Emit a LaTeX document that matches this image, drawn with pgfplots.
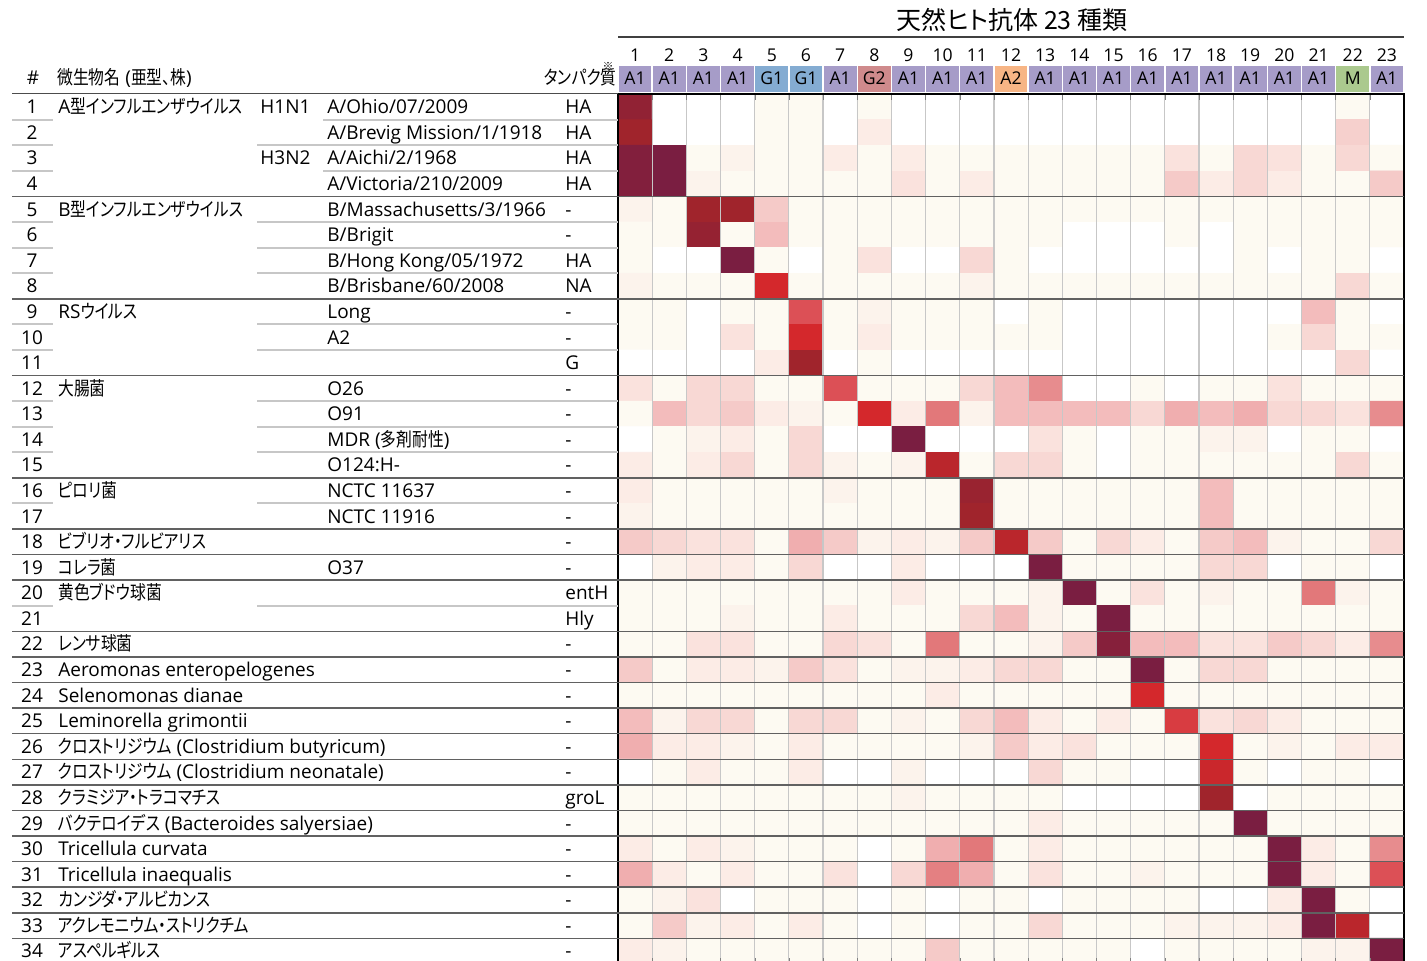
\documentclass[border=0pt]{standalone}
\usepackage{fontspec}
\setmainfont{Open Sans}
\newfontfamily\jp[RawFeature=+palt, Scale=1.0, FakeStretch=0.83]{Noto Sans CJK JP}
\newfontfamily\jpt[RawFeature=+palt]{Noto Sans CJK JP}
\usepackage{pgfplots}
\pgfplotsset{compat=1.18}
\definecolor{cA}{RGB}{166,156,200}
\definecolor{cG}{RGB}{132,172,210}
\definecolor{cGb}{RGB}{207,138,140}
\definecolor{cAb}{RGB}{247,181,133}
\definecolor{cM}{RGB}{171,201,142}
\newcommand\J[1]{{\jp #1}}
\newcommand\RN[1]{\node[anchor=base] at (32,{88.21+25.58*#1}) {#1};}
\newcommand\RT[3]{\node[anchor=base west] at (#2,{88.21+25.58*#1}) {#3};}
\begin{document}
\begin{tikzpicture}
\begin{axis}[
  at={(309pt,-47.1pt)}, anchor=north west,
  scale only axis, width=393pt, height=434.85pt,
  xmin=0.5, xmax=23.5, ymin=0.5, ymax=34.5, y dir=reverse,
  axis on top,
  xtick={1,...,23},
  xticklabels={1,2,3,4,5,6,7,8,9,10,11,12,13,14,15,16,17,18,19,20,21,22,23},
  xticklabel pos=upper,
  xticklabel style={font=\fontsize{8.8}{10}\selectfont, anchor=base, yshift=16.6pt, inner sep=0pt},
  major tick length=0pt,
  ytick=\empty,
  minor xtick={0.5,1.5,...,23.5}, minor ytick={0.5,1.5,...,34.5},
  xminorgrids, yminorgrids,
  minor grid style={draw=black!22, line width=0.6pt},
  axis line style={line width=1pt, black},
  colormap={heat}{rgb255(0)=(255,255,255); rgb255(1)=(253,250,242); rgb255(2)=(252,236,230); rgb255(3)=(248,216,212); rgb255(4)=(243,188,188); rgb255(5)=(236,160,162); rgb255(6)=(226,120,122); rgb255(7)=(220,80,86); rgb255(8)=(212,40,44); rgb255(9)=(160,36,44); rgb255(10)=(122,30,65)},
  point meta min=0, point meta max=10,
]
\addplot[matrix plot*, mesh/cols=23, point meta=explicit]
  table[header=false, row sep=\\, x expr={mod(\coordindex,23)+1}, y expr={floor((\coordindex+0.5)/23)+1}, meta index=0] {
9.4\\ 0\\ 0\\ 0\\ 1\\ 1\\ 0\\ 1\\ 0\\ 0\\ 0\\ 0\\ 0\\ 0\\ 0\\ 0\\ 0\\ 0\\ 0\\ 0\\ 0\\ 1\\ 0\\
9\\ 0\\ 0\\ 0\\ 1\\ 1\\ 0\\ 2\\ 0\\ 0\\ 0\\ 0\\ 0\\ 0\\ 0\\ 0\\ 0\\ 0\\ 0\\ 0\\ 0\\ 3.3\\ 0\\
9.8\\ 10\\ 1\\ 1.5\\ 1\\ 1\\ 2\\ 1\\ 2\\ 1\\ 1\\ 1\\ 1\\ 1\\ 1\\ 1\\ 2.5\\ 1\\ 3\\ 2.5\\ 1\\ 3\\ 1\\
9.8\\ 10\\ 1.5\\ 1\\ 1\\ 1\\ 1\\ 1\\ 2.5\\ 1\\ 2\\ 1\\ 1\\ 1\\ 1\\ 1\\ 3.5\\ 2\\ 3\\ 2\\ 1\\ 1\\ 3.5\\
1.5\\ 1\\ 9\\ 9\\ 3.5\\ 1\\ 1\\ 1\\ 1\\ 1\\ 1\\ 1\\ 1\\ 1\\ 1\\ 1\\ 1\\ 1\\ 1\\ 1\\ 1\\ 1\\ 1\\
1\\ 1\\ 9.3\\ 1\\ 4\\ 1\\ 1\\ 1\\ 1\\ 1\\ 1\\ 1\\ 1\\ 0\\ 0\\ 0\\ 1\\ 0\\ 1\\ 1\\ 1\\ 1\\ 1\\
1\\ 0\\ 0\\ 10\\ 1\\ 0\\ 1\\ 2.5\\ 0\\ 0\\ 3\\ 1\\ 0\\ 0\\ 0\\ 0\\ 0\\ 0\\ 1\\ 0\\ 1\\ 1\\ 0\\
1.5\\ 1\\ 1\\ 1\\ 8\\ 1\\ 1\\ 1\\ 1\\ 1\\ 1.5\\ 1\\ 1\\ 1\\ 1\\ 1\\ 1\\ 1\\ 1\\ 1\\ 1\\ 3\\ 1\\
1\\ 1\\ 0\\ 1\\ 1\\ 7\\ 1\\ 1.5\\ 1\\ 1\\ 1\\ 0\\ 1\\ 0\\ 0\\ 0\\ 0\\ 0\\ 0\\ 0\\ 4\\ 1\\ 0\\
1\\ 1\\ 0\\ 2.5\\ 1\\ 8\\ 1\\ 2\\ 1\\ 1\\ 1\\ 1\\ 1\\ 0\\ 0\\ 0\\ 0\\ 0\\ 0\\ 1\\ 3\\ 1\\ 1\\
0\\ 0\\ 0\\ 0\\ 2\\ 9\\ 0\\ 1\\ 0\\ 0\\ 0\\ 0\\ 0\\ 0\\ 0\\ 0\\ 0\\ 0\\ 0\\ 0\\ 0\\ 3\\ 0\\
2.5\\ 1\\ 3\\ 3\\ 1\\ 1\\ 7\\ 1\\ 1\\ 1\\ 3\\ 4\\ 5.5\\ 0\\ 0\\ 1\\ 0\\ 1\\ 1\\ 2.5\\ 1\\ 1\\ 1\\
1\\ 4\\ 3\\ 3.5\\ 2\\ 1.5\\ 1\\ 8\\ 2\\ 6\\ 1.5\\ 4\\ 4\\ 4\\ 4\\ 3\\ 4.5\\ 4\\ 4.5\\ 3\\ 3\\ 2.5\\ 5.5\\
0\\ 1\\ 1.5\\ 2\\ 1\\ 3\\ 0\\ 0\\ 10\\ 0\\ 0\\ 0\\ 2.5\\ 1\\ 0\\ 1\\ 1\\ 1.5\\ 1.5\\ 0\\ 1\\ 1\\ 0\\
2\\ 1\\ 2\\ 3\\ 1\\ 3\\ 1.5\\ 1\\ 1.5\\ 8.5\\ 1\\ 3\\ 3\\ 1\\ 0\\ 1\\ 1\\ 1\\ 1\\ 1\\ 1\\ 3\\ 1\\
2\\ 1\\ 1\\ 1\\ 1\\ 1\\ 1.5\\ 1\\ 1\\ 1\\ 9.2\\ 1\\ 1\\ 1\\ 1\\ 1\\ 1\\ 4\\ 1\\ 1\\ 1\\ 1\\ 1\\
1.5\\ 1\\ 1\\ 1\\ 1\\ 1\\ 1\\ 1\\ 1\\ 1\\ 9\\ 1\\ 1\\ 1\\ 1\\ 1\\ 1\\ 4\\ 1\\ 1\\ 1\\ 1\\ 1\\
3.5\\ 3\\ 2.5\\ 2.5\\ 1\\ 4.5\\ 3.5\\ 1.5\\ 2\\ 1.5\\ 3.5\\ 8.5\\ 3.5\\ 1\\ 3\\ 2\\ 1\\ 3.5\\ 4\\ 1.5\\ 1\\ 1\\ 3\\
0\\ 1.5\\ 2\\ 2\\ 1\\ 3\\ 0\\ 0\\ 2\\ 0\\ 0\\ 0\\ 10\\ 1\\ 1\\ 1\\ 1\\ 3\\ 3\\ 0\\ 1\\ 1\\ 0\\
1\\ 1\\ 1\\ 1\\ 1\\ 1\\ 1\\ 1\\ 2\\ 1\\ 1\\ 1\\ 1.5\\ 10\\ 1\\ 2.5\\ 1\\ 1.5\\ 1\\ 1\\ 6\\ 1.5\\ 1\\
1\\ 1\\ 1\\ 1.5\\ 1\\ 1\\ 2\\ 1\\ 1\\ 1\\ 3\\ 4\\ 1.5\\ 1\\ 10\\ 1\\ 1\\ 1\\ 1\\ 1\\ 1\\ 1\\ 1\\
1\\ 1\\ 2.5\\ 2.5\\ 1\\ 1\\ 3\\ 2.5\\ 1\\ 6\\ 1\\ 1\\ 1.5\\ 3.5\\ 9.7\\ 4\\ 4\\ 2.5\\ 2.5\\ 3.5\\ 3\\ 2\\ 5.5\\
3.5\\ 1\\ 2\\ 2\\ 1.5\\ 3.5\\ 2.5\\ 1\\ 1.5\\ 1.5\\ 2\\ 3\\ 3\\ 1\\ 1\\ 10\\ 1\\ 3\\ 3\\ 1\\ 1\\ 1\\ 1\\
1\\ 1\\ 1\\ 1\\ 1\\ 1\\ 1\\ 1\\ 1\\ 2\\ 1\\ 1\\ 1\\ 1\\ 1\\ 8\\ 1\\ 1\\ 1\\ 1\\ 1\\ 1\\ 1\\
4\\ 1.5\\ 3\\ 3\\ 1\\ 3\\ 3\\ 1\\ 1.5\\ 1\\ 3\\ 4\\ 2\\ 1\\ 2\\ 1\\ 7.5\\ 2.5\\ 3\\ 2\\ 1\\ 1\\ 1\\
4.5\\ 2\\ 2\\ 1.5\\ 1\\ 2\\ 1\\ 1\\ 1\\ 1\\ 1.5\\ 3.5\\ 2\\ 2.5\\ 1\\ 1\\ 1\\ 8\\ 1\\ 1.5\\ 1\\ 2\\ 2\\
0\\ 1\\ 2\\ 1\\ 1\\ 2\\ 0\\ 0\\ 1.5\\ 0\\ 0\\ 0\\ 3\\ 1\\ 1\\ 0\\ 0\\ 8.2\\ 1\\ 0\\ 1\\ 1\\ 0\\
1\\ 1\\ 1\\ 1\\ 1\\ 1\\ 1\\ 1\\ 1.5\\ 1\\ 1\\ 1\\ 1\\ 0\\ 0\\ 0\\ 0\\ 9\\ 0\\ 1\\ 1\\ 1\\ 1\\
1\\ 1\\ 1\\ 1\\ 1\\ 1\\ 1\\ 1\\ 1\\ 1\\ 1\\ 1\\ 2\\ 1\\ 1\\ 1\\ 1\\ 1\\ 10\\ 1\\ 1\\ 1\\ 1\\
2\\ 1\\ 2\\ 1.5\\ 1\\ 1\\ 1\\ 0\\ 1\\ 4.5\\ 6\\ 1\\ 2\\ 1\\ 1\\ 1\\ 1\\ 1\\ 1\\ 10\\ 2\\ 1\\ 5.5\\
4.5\\ 2\\ 1\\ 2\\ 1\\ 1\\ 2.5\\ 0\\ 3\\ 5.8\\ 4.5\\ 1\\ 2.5\\ 1\\ 1\\ 1.5\\ 1\\ 1\\ 1\\ 10\\ 2\\ 1\\ 7\\
1\\ 1.5\\ 2.5\\ 0\\ 1\\ 1\\ 1\\ 0\\ 1\\ 0\\ 1\\ 1\\ 0\\ 1\\ 1\\ 1\\ 1\\ 0\\ 0\\ 2\\ 10\\ 1\\ 0\\
1\\ 3.5\\ 1.5\\ 2\\ 1\\ 2\\ 1\\ 0\\ 1\\ 0\\ 1\\ 1\\ 3\\ 1\\ 1\\ 1\\ 1.5\\ 1.5\\ 1.5\\ 2\\ 10\\ 8.5\\ 0\\
2\\ 1.5\\ 1\\ 1\\ 1\\ 1\\ 1\\ 1\\ 1\\ 3.5\\ 1\\ 1\\ 1\\ 1\\ 1\\ 0\\ 1\\ 1\\ 1\\ 1\\ 1.5\\ 1.5\\ 10\\
};
\end{axis}
\begin{scope}[x=0.5pt,y=-0.5pt, every node/.append style={font=\fontsize{9.5}{11}\selectfont, inner sep=0pt}]
% title
\node[anchor=base, font=\jpt\fontsize{12.5}{14}\selectfont] at (1012,30) {天然ヒト抗体 23 種類};
\draw[black!75, line width=1pt] (618,37.5) -- (1404,37.5);
% antibody class boxes
\foreach \i/\t/\c in {1/A1/cA,2/A1/cA,3/A1/cA,4/A1/cA,5/G1/cG,6/G1/cG,7/A1/cA,8/G2/cGb,9/A1/cA,10/A1/cA,11/A1/cA,12/A2/cAb,13/A1/cA,14/A1/cA,15/A1/cA,16/A1/cA,17/A1/cA,18/A1/cA,19/A1/cA,20/A1/cA,21/A1/cA,22/M/cM,23/A1/cA}{
  \pgfmathsetmacro\xa{618+(\i-1)*34.174+0.7}
  \pgfmathsetmacro\xb{618+\i*34.174-0.7}
  \fill[\c] (\xa,66) rectangle (\xb,92);
  \node[anchor=base, font=\fontsize{8.8}{10}\selectfont] at ({(\xa+\xb)/2},85) {\t};
}
% header row
\node[anchor=base] at (33,85) {\#};
\node[anchor=base west] at (57,85) {\J{微生物名} (\J{亜型、株})};
\node[anchor=base east] at (617,85) {\J{タンパク質}};
\node[font=\jpt\fontsize{5.5}{6}\selectfont] at (608,66) {※};
\draw[black!70, line width=0.75pt] (12,93.5) -- (618,93.5);
% separators
\foreach \k in {1,2,3,5,6,7,9,10,12,13,14,16,20}{
  \draw[black!22, line width=1pt] (12,{94.2+25.58*\k}) -- (53,{94.2+25.58*\k});
}
\foreach \k in {2,5,6,7,9,10,12,13,14,16,20}{
  \draw[black!22, line width=1pt] (257,{94.2+25.58*\k}) -- (618,{94.2+25.58*\k});
}
\foreach \k in {1,3}{
  \draw[black!22, line width=1pt] (323,{94.2+25.58*\k}) -- (618,{94.2+25.58*\k});
}
\foreach \k in {4,8,11,15,17,18,19,21,22,23,24,25,26,27,28,29,30,31,32,33}{
  \draw[black!62, line width=0.75pt] (12,{94.2+25.58*\k}) -- (1404,{94.2+25.58*\k});
}
% row numbers
\foreach \r in {1,...,34}{\RN{\r}}
% organism names
\RT{1}{58}{A\J{型インフルエンザウイルス}}
\RT{5}{58}{B\J{型インフルエンザウイルス}}
\RT{9}{58}{RS\J{ウイルス}}
\RT{12}{58}{\J{大腸菌}}
\RT{16}{58}{\J{ピロリ菌}}
\RT{18}{58}{\J{ビブリオ・フルビアリス}}
\RT{19}{58}{\J{コレラ菌}}
\RT{20}{58}{\J{黄色ブドウ球菌}}
\RT{22}{58}{\J{レンサ球菌}}
\RT{23}{58}{Aeromonas enteropelogenes}
\RT{24}{58}{Selenomonas dianae}
\RT{25}{58}{Leminorella grimontii}
\RT{26}{58}{\J{クロストリジウム} (Clostridium butyricum)}
\RT{27}{58}{\J{クロストリジウム} (Clostridium neonatale)}
\RT{28}{58}{\J{クラミジア・トラコマチス}}
\RT{29}{58}{\J{バクテロイデス} (Bacteroides salyersiae)}
\RT{30}{58}{Tricellula curvata}
\RT{31}{58}{Tricellula inaequalis}
\RT{32}{58}{\J{カンジダ・アルビカンス}}
\RT{33}{58}{\J{アクレモニウム・ストリクチム}}
\RT{34}{58}{\J{アスペルギルス}}
% subtypes
\RT{1}{260}{H1N1}
\RT{3}{260}{H3N2}
% strains
\RT{1}{327}{A/Ohio/07/2009}
\RT{2}{327}{A/Brevig Mission/1/1918}
\RT{3}{327}{A/Aichi/2/1968}
\RT{4}{327}{A/Victoria/210/2009}
\RT{5}{327}{B/Massachusetts/3/1966}
\RT{6}{327}{B/Brigit}
\RT{7}{327}{B/Hong Kong/05/1972}
\RT{8}{327}{B/Brisbane/60/2008}
\RT{9}{327}{Long}
\RT{10}{327}{A2}
\RT{12}{327}{O26}
\RT{13}{327}{O91}
\RT{14}{327}{MDR (\J{多剤耐性})}
\RT{15}{327}{O124:H-}
\RT{16}{327}{NCTC 11637}
\RT{17}{327}{NCTC 11916}
\RT{19}{327}{O37}
% proteins
\RT{1}{565}{HA}\RT{2}{565}{HA}\RT{3}{565}{HA}\RT{4}{565}{HA}
\RT{5}{565}{-}\RT{6}{565}{-}\RT{7}{565}{HA}\RT{8}{565}{NA}
\RT{9}{565}{-}\RT{10}{565}{-}\RT{11}{565}{G}
\foreach \r in {12,...,19}{\RT{\r}{565}{-}}
\RT{20}{565}{entH}\RT{21}{565}{Hly}
\foreach \r in {22,...,27}{\RT{\r}{565}{-}}
\RT{28}{565}{groL}
\foreach \r in {29,...,34}{\RT{\r}{565}{-}}
\pgfresetboundingbox
\useasboundingbox (0,0) rectangle (1427,961);
\end{scope}
\end{tikzpicture}
\end{document}
